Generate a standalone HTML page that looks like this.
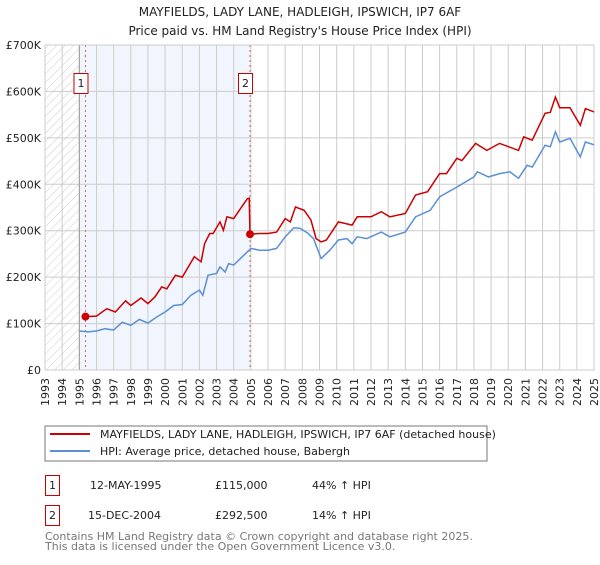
<!DOCTYPE html>
<html><head><meta charset="utf-8"><style>
body{margin:0;background:#fff;}
svg text{font-family:"DejaVu Sans","Liberation Sans",sans-serif;}
</style></head><body>
<svg id="chart" width="600" height="560" xmlns="http://www.w3.org/2000/svg">
<defs>
<pattern id="hatch" width="6" height="6" patternUnits="userSpaceOnUse" patternTransform="rotate(45)">
<line x1="0" y1="0" x2="0" y2="6" stroke="#ccc" stroke-width="1"/>
</pattern>
</defs>
<text x="300" y="16" text-anchor="middle" font-size="12" fill="#222">MAYFIELDS, LADY LANE, HADLEIGH, IPSWICH, IP7 6AF</text>
<text x="300" y="35" text-anchor="middle" font-size="12" fill="#222">Price paid vs. HM Land Registry's House Price Index (HPI)</text>
<g id="plot"></g>
<g>
<rect x="45" y="426" width="442" height="35" fill="#fff" stroke="#777"/>
<line x1="50" y1="434" x2="90" y2="434" stroke="#cc0000" stroke-width="2"/>
<text x="100" y="438" font-size="11" fill="#222">MAYFIELDS, LADY LANE, HADLEIGH, IPSWICH, IP7 6AF (detached house)</text>
<line x1="50" y1="451" x2="90" y2="451" stroke="#5b8fd6" stroke-width="2"/>
<text x="100" y="455" font-size="11" fill="#222">HPI: Average price, detached house, Babergh</text>
</g>
<g font-size="11" fill="#222">
<rect x="45.5" y="475.5" width="14" height="20" fill="#fff" stroke="#cc0000"/>
<text x="52.5" y="489" text-anchor="middle">1</text>
<text x="90" y="489">12-MAY-1995</text>
<text x="215" y="489">£115,000</text>
<text x="312" y="489">44% ↑ HPI</text>
<rect x="45.5" y="505.5" width="14" height="20" fill="#fff" stroke="#cc0000"/>
<text x="52.5" y="519" text-anchor="middle">2</text>
<text x="88" y="519">15-DEC-2004</text>
<text x="215" y="519">£292,500</text>
<text x="312" y="519">14% ↑ HPI</text>
</g>
<text x="45" y="540" font-size="11" fill="#777">Contains HM Land Registry data © Crown copyright and database right 2025.</text>
<text x="45" y="550" font-size="11" fill="#777">This data is licensed under the Open Government Licence v3.0.</text>
</svg>
<script>
const yTicks=[0,100,200,300,400,500,600,700];
const yTickLabels=["£0","£100K","£200K","£300K","£400K","£500K","£600K","£700K"];
const years=[1993,1994,1995,1996,1997,1998,1999,2000,2001,2002,2003,2004,2005,2006,2007,2008,2009,2010,2011,2012,2013,2014,2015,2016,2017,2018,2019,2020,2021,2022,2023,2024,2025];
const hpiT=[1995.0,1995.5,1996,1996.5,1997,1997.5,1998,1998.5,1999,1999.5,2000,2000.5,2001,2001.5,2002,2002.2,2002.5,2003,2003.2,2003.5,2003.7,2004,2004.5,2005,2005.5,2006,2006.5,2007,2007.5,2007.87,2008.3,2008.65,2009.1,2009.6,2010.1,2010.6,2010.9,2011.2,2011.75,2012.6,2013.1,2014,2014.6,2015.45,2016,2017,2018,2018.2,2018.85,2019.5,2020.1,2020.6,2021.1,2021.4,2022.15,2022.45,2022.75,2023,2023.6,2024.2,2024.5,2025];
const hpiV=[84,82,84,89,86,103,96,109,101,114,125,139,141,161,172,161,204,208,222,211,229,226,244,262,258,258,262,287,306,305,295,283,240,258,280,283,272,287,283,297,287,297,330,344,373,394,416,427,416,423,427,413,441,437,484,481,513,491,499,459,491,485];
const ppT=[1995.36,1996,1996.6,1997.1,1997.7,1998,1998.6,1999,1999.4,1999.8,2000.1,2000.6,2001,2001.7,2002.1,2002.3,2002.6,2002.8,2003.2,2003.4,2003.6,2004.0,2004.4,2004.8,2004.9,2004.95,2005.5,2006,2006.5,2007,2007.3,2007.6,2008.1,2008.5,2008.8,2009.1,2009.4,2010.1,2010.9,2011.2,2012,2012.6,2013.1,2014,2014.6,2015.3,2016,2016.4,2017,2017.3,2018.1,2018.75,2019.5,2020.6,2020.9,2021.4,2022.15,2022.45,2022.75,2023,2023.6,2024.2,2024.5,2025];
const ppV=[115,116,132,125,149,139,155,143,157,179,175,204,200,244,233,272,294,294,319,301,330,326,348,369,370,292.5,294,294,297,326,319,351,344,323,283,276,280,319,312,330,330,341,330,337,377,384,423,423,456,451,488,473,488,473,502,495,553,555,588,565,565,527,563,556];
const saleT=[1995.36,2004.95];
const saleV=[115,292.5];
const saleLabels=["1","2"];

const L=45,R=594,T=45,B=370;
const x=t=>L+(t-1993)/(2025-1993)*(R-L);
const y=v=>B-v/700*(B-T);
const NS="http://www.w3.org/2000/svg";
const g=document.getElementById('plot');
function mk(tag,attrs,parent){const e=document.createElementNS(NS,tag);for(const k in attrs)e.setAttribute(k,attrs[k]);(parent||g).appendChild(e);return e;}
let e;
e=mk('rect',{x:x(1995),y:T,width:x(saleT[1])-x(1995),height:B-T,fill:'#f1f5fd'});


e=mk('rect',{x:L,y:T,width:x(1995)-L,height:B-T,fill:'url(#hatch)'});


years.forEach(yr=>{
 e=mk('line',{x1:x(yr),x2:x(yr),y1:T,y2:B,stroke:'#ccc','stroke-width':1});
 
 
 const tx=mk('text',{x:0,y:0,'font-size':11,fill:'#222','text-anchor':'end',transform:`translate(${x(yr)+4},${B+8}) rotate(-90)`});
 tx.textContent=yr;
 
 
});
yTicks.forEach((v,i)=>{
 e=mk('line',{x1:L,x2:R,y1:y(v),y2:y(v),stroke:'#ccc','stroke-width':1});
 
 
 const tx=mk('text',{x:L-4,y:y(v)+4,'font-size':11,fill:'#222','text-anchor':'end'});
 tx.textContent=yTickLabels[i];
 
 
});
e=mk('line',{x1:x(1995),x2:x(1995),y1:T,y2:B,stroke:'#999','stroke-width':1});


saleT.forEach((t,i)=>{
 e=mk('line',{x1:x(t),x2:x(t),y1:T,y2:B,stroke:'#e06060','stroke-width':1,'stroke-dasharray':'2,3'});
 
 
});
e=mk('rect',{x:L,y:T,width:R-L,height:B-T,fill:'none',stroke:'#ccc'});


e=mk('path',{d:hpiT.map((t,i)=>(i?'L':'M')+x(t).toFixed(1)+','+y(hpiV[i]).toFixed(1)).join(''),fill:'none',stroke:'#5b8fd6','stroke-width':1.5});


e=mk('path',{d:ppT.map((t,i)=>(i?'L':'M')+x(t).toFixed(1)+','+y(ppV[i]).toFixed(1)).join(''),fill:'none',stroke:'#cc0000','stroke-width':1.5});


saleT.forEach((t,i)=>{
 e=mk('circle',{cx:x(t),cy:y(saleV[i]),r:4,fill:'#cc0000'});
 
 
 const bx=x(t)-11;
 e=mk('rect',{x:bx-0.5,y:73.5,width:14,height:20,fill:'#fff',stroke:'#cc0000'});
 
 
 const tx=mk('text',{x:bx+6.5,y:87,'font-size':11,fill:'#222','text-anchor':'middle'});
 tx.textContent=saleLabels[i];
 
 
});
</script>
</body></html>
